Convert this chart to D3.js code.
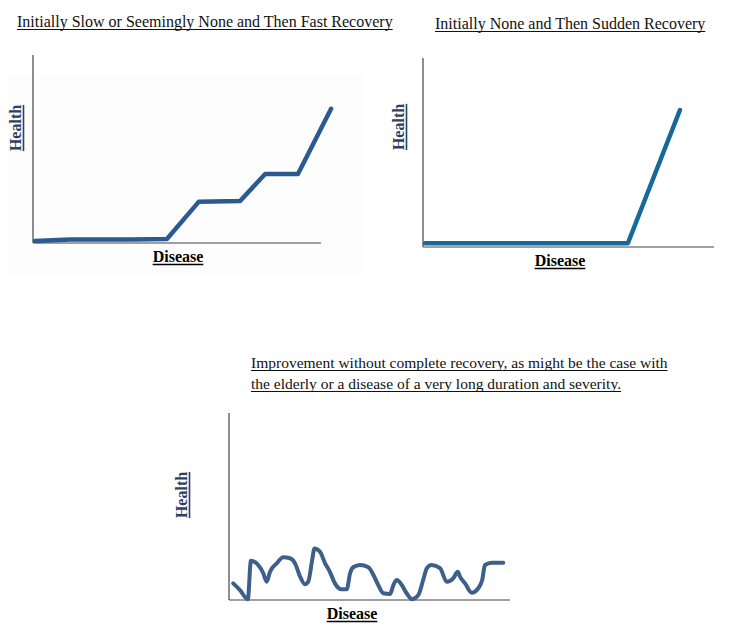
<!DOCTYPE html>
<html>
<head>
<meta charset="utf-8">
<script src="https://cdn.jsdelivr.net/npm/d3@7"></script>
<style>
  body { margin: 0; background: #fff; }
  svg { display: block; }
</style>
</head>
<body>
<div id="chart"></div>
<script>
// titles
var titleSlow = ["Initially Slow or Seemingly None and Then Fast Recovery"];
var titleSudden = ["Initially None and Then Sudden Recovery"];
var titleChronic = ["Improvement without complete recovery, as might be the case with",
  "the elderly or a disease of a very long duration and severity."];

var xLabel = "Disease";
var yLabel = "Health";

// curves (x = disease 0..100, y = health 0..100)
var slowX = [0.7, 12.8, 34.7, 46.5, 57.6, 71.9, 80.6, 92, 103.5];
var slowY = [1.1, 1.9, 1.9, 2.1, 22, 22.3, 36.7, 36.7, 71.4];

var suddenX = [0.7, 70.4, 88.3];
var suddenY = [2, 2, 72.5];

var chronicX = [1.5, 3.9, 6.7, 7.8, 10.4, 12.2, 13.4, 14.6, 17.0, 19.3, 21.7, 23.5, 25.3, 27.0, 28.2,
  29.6, 30.4, 32.4, 34.2, 35.9, 37.7, 40.1, 41.9, 43.1, 44.2, 46.6, 49.6, 51.4, 53.1, 54.9, 57.3,
  58.5, 59.7, 61.5, 63.2, 65.2, 67.4, 69.1, 70.4, 72.1, 75.1, 77.5, 79.8, 81.4, 82.2, 84.0, 86.4,
  88.7, 90.1, 91.1, 93.5, 97.6];
var chronicY = [8.9, 5.3, 0.4, 21.0, 18.7, 14.3, 9.8, 15.1, 19.6, 22.8, 22.3, 19.6, 12.5, 8.4, 9.8,
  21.4, 27.6, 25.8, 19.6, 15.1, 8.9, 5.7, 5.7, 14.3, 17.5, 18.7, 17.5, 13.4, 8.0, 3.6, 3.2,
  8.0, 10.7, 8.0, 3.6, 0.4, 2.7, 10.7, 17.0, 18.7, 17.0, 9.8, 11.6, 15.1, 12.5, 8.9, 3.9,
  6.3, 10.7, 18.7, 19.9, 19.9];

var serif = "'Liberation Serif', 'Times New Roman', serif";

var svg = d3.select("#chart").append("svg")
  .attr("width", 730)
  .attr("height", 630);

// very faint grey patch behind the first chart
svg.append("rect")
  .attr("x", 8).attr("y", 75).attr("width", 355).attr("height", 200)
  .attr("fill", "#fdfdfd");

// underlined text helper
function underlinedText(x, y, str, opts) {
  var t = svg.append("text")
    .attr("x", x)
    .attr("y", y)
    .attr("font-family", serif)
    .attr("font-size", opts.size)
    .attr("font-weight", opts.bold ? "bold" : "normal")
    .attr("fill", opts.color)
    .attr("text-anchor", opts.anchor || "start")
    .text(str);
  var w = t.node().getComputedTextLength();
  var x0 = opts.anchor == "middle" ? x - w / 2 : x;
  svg.append("line")
    .attr("x1", x0).attr("x2", x0 + w)
    .attr("y1", y + 2.5).attr("y2", y + 2.5)
    .attr("stroke", opts.color)
    .attr("stroke-width", opts.bold ? 1.6 : 1);
  return t;
}

function drawPanel(p) {
  var xScale = d3.scaleLinear().domain([0, 100]).range([p.left, p.right]);
  var yScale = d3.scaleLinear().domain([0, 100]).range([p.bottom, p.top]);

  // title lines
  p.title.forEach(function (s, i) {
    underlinedText(p.titleX, p.titleY + i * 21, s, { size: p.titleSize, color: "#111" });
  });

  // axes, drawn as bare lines (no ticks in the picture)
  var g = svg.append("g");
  g.append("line")
    .attr("x1", xScale(0)).attr("x2", xScale(0))
    .attr("y1", yScale(0)).attr("y2", yScale(100))
    .attr("stroke", "#444").attr("stroke-width", 1.2);
  g.append("line")
    .attr("x1", xScale(0)).attr("x2", xScale(100))
    .attr("y1", yScale(0)).attr("y2", yScale(0))
    .attr("stroke", "#444").attr("stroke-width", 1.2);

  // axis labels
  underlinedText(p.xLabelX, p.bottom + 19, xLabel,
    { size: 16, bold: true, color: "#000", anchor: "middle" });

  var hy = svg.append("g")
    .attr("transform", "translate(" + p.yLabelX + "," + p.yLabelY + ") rotate(-90)");
  var ht = hy.append("text")
    .attr("font-family", serif)
    .attr("font-size", 16)
    .attr("font-weight", "bold")
    .attr("fill", "#2f3f5f")
    .attr("text-anchor", "middle")
    .text(yLabel);
  var hw = ht.node().getComputedTextLength();
  hy.append("line")
    .attr("x1", -hw / 2).attr("x2", hw / 2)
    .attr("y1", 2.5).attr("y2", 2.5)
    .attr("stroke", "#2f3f5f").attr("stroke-width", 1.6);

  var pts = p.xs.map(function (d, i) { return [d, p.ys[i]]; });
  var line = d3.line()
    .x(function (d) { return xScale(d[0]); })
    .y(function (d) { return yScale(d[1]); })
    .curve(p.curve || d3.curveLinear);

  g.append("path")
    .datum(pts)
    .attr("d", line)
    .attr("fill", "none")
    .attr("stroke", p.color)
    .attr("stroke-width", p.width)
    .attr("stroke-linejoin", "round")
    .attr("stroke-linecap", "round");
}

drawPanel({ title: titleSlow, titleX: 17, titleY: 27, titleSize: 16, left: 33, right: 321, top: 55, bottom: 243,
  xLabelX: 178, yLabelX: 21, yLabelY: 128, xs: slowX, ys: slowY, color: "#2b5a91", width: 4.5 });
drawPanel({ title: titleSudden, titleX: 435, titleY: 29, titleSize: 16, left: 423, right: 714, top: 58, bottom: 247,
  xLabelX: 560, yLabelX: 404, yLabelY: 127, xs: suddenX, ys: suddenY, color: "#16699a", width: 4.5 });
drawPanel({ title: titleChronic, titleX: 251, titleY: 368, titleSize: 15.5, left: 229, right: 510, top: 413, bottom: 600,
  xLabelX: 352, yLabelX: 187, yLabelY: 495, xs: chronicX, ys: chronicY, color: "#3c5f8c", width: 4,
  curve: d3.curveMonotoneX });
</script>
</body>
</html>
